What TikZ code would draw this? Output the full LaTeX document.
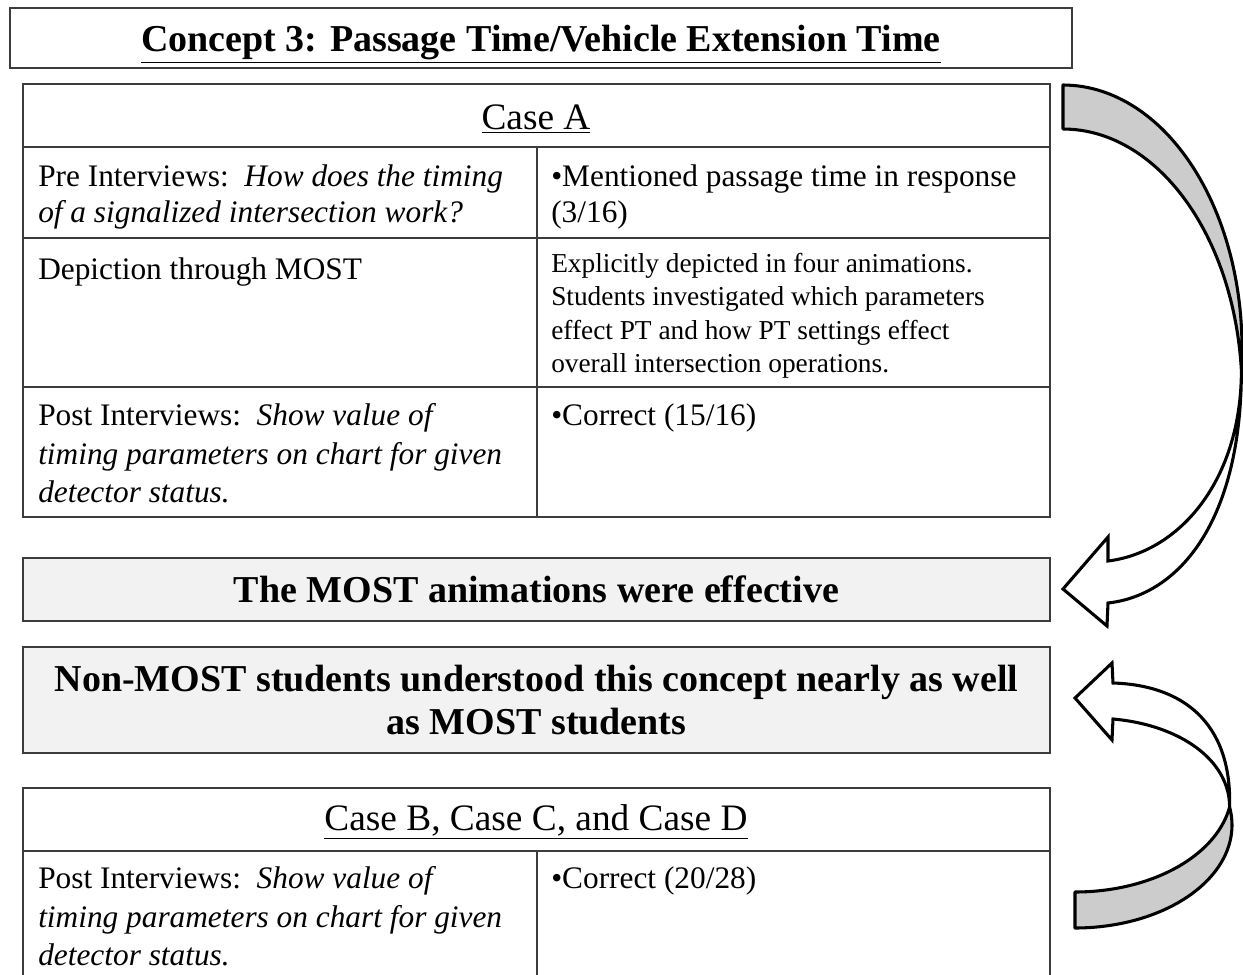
\documentclass[tikz,border=0pt]{standalone}
\usepackage{fontspec}
\setmainfont{Liberation Serif}
\definecolor{panelfill}{RGB}{242,242,242}
\definecolor{ribbongray}{RGB}{204,204,204}
\definecolor{rulegray}{RGB}{60,60,60}
\begin{document}
\begin{tikzpicture}[x=0.75pt,y=-0.75pt,
  rules/.style={draw=rulegray, line width=1.2pt},
  panel/.style={rules, rectangle, inner sep=0pt, align=center,
    font=\fontsize{28.5}{32}\selectfont\bfseries},
  headtxt/.style={inner sep=0pt, font=\fontsize{28}{32}\selectfont},
  celltxt/.style={anchor=north west, inner sep=0pt, align=left,
    font=\fontsize{23.5}{27}\selectfont},
  posttxt/.style={celltxt, font=\fontsize{23.5}{29}\selectfont},
  smalltxt/.style={anchor=north west, inner sep=0pt, align=left,
    font=\fontsize{20.5}{25}\selectfont},
  backface/.style={fill=ribbongray, draw=black, line width=2.3pt, line join=round},
  frontface/.style={fill=white, draw=black, line width=2.3pt, line join=miter}]
\useasboundingbox (0,0) rectangle (1243,975);
\clip (0,0) rectangle (1243,975);

% title
\node[panel, fill=white, minimum width=796.5pt, minimum height=45pt]
  (titlebox) at (541,38) {};
\node[panel, draw=none] (title) at (541,44)
  {\underline{Concept 3: Passage Time/Vehicle Extension Time}};

% Case A table
\draw[rules] (23,84) rectangle (1050,517);
\draw[rules] (23,147) -- (1050,147);
\draw[rules] (23,238) -- (1050,238);
\draw[rules] (23,387) -- (1050,387);
\draw[rules] (537,147) -- (537,517);
\node[headtxt] (caseA) at (536,119) {\underline{Case A}};
\node[celltxt] (preQ) at (38,164)
  {Pre Interviews:\ \ \textit{How does the timing}\\\textit{of a signalized intersection work?}};
\node[celltxt] (preA) at (551,164) {•Mentioned passage time in response\\(3/16)};
\node[celltxt] (depQ) at (38,257) {Depiction through MOST};
\node[smalltxt] (depA) at (551,253)
  {Explicitly depicted in four animations.\\Students investigated which parameters\\effect PT and how PT settings effect\\overall intersection operations.};
\node[posttxt] (postQ) at (38,403)
  {Post Interviews:\ \ \textit{Show value of}\\\textit{timing parameters on chart for given}\\\textit{detector status.}};
\node[celltxt] (postA) at (551,403) {•Correct (15/16)};

% conclusion panels
\node[panel, fill=panelfill, minimum width=770.25pt, minimum height=47.25pt]
  (effective) at (536.5,589.5) {The MOST animations were effective};
\node[panel, fill=panelfill, minimum width=770.25pt, minimum height=79.5pt]
  (nonmost) at (536.5,700) {Non-MOST students understood this concept nearly as well\\as MOST students};

% Case B, C, D table
\draw[rules] (23,1000) -- (23,788) -- (1050,788) -- (1050,1000);
\draw[rules] (23,851) -- (1050,851);
\draw[rules] (537,851) -- (537,1000);
\node[headtxt] (caseBCD) at (536,822) {\underline{Case B, Case C, and Case D}};
\node[posttxt] (postQb) at (38,866)
  {Post Interviews:\ \ \textit{Show value of}\\\textit{timing parameters on chart for given}\\\textit{detector status.}};
\node[celltxt] (postAb) at (551,866) {•Correct (20/28)};

% curved ribbon arrow from Case A down to the first conclusion
\coordinate (twistA) at (1241.4,370);
\draw[backface]
  plot[domain=-90:4.8, samples=60] ({1063+179*cos(\x)},{348+263*sin(\x)})
  -- plot[domain=-4.8:-90, samples=60] ({1063+179*cos(\x)},{392+263*sin(\x)})
  -- cycle;
\draw[frontface]
  (twistA) .. controls (1241.4,520) and (1180,595) .. (1108,603)
  -- (1107,626) -- (1063,589) -- (1108,537) -- (1108,561)
  .. controls (1180,552) and (1241.4,480) .. (twistA) -- cycle;

% curved ribbon arrow from Case B, C, D up to the second conclusion
\coordinate (twistB) at (1229.6,807);
\draw[backface]
  plot[domain=90:-10.06, samples=60] ({1075+157*cos(\x)},{825+103*sin(\x)})
  -- plot[domain=10.06:90, samples=60] ({1075+157*cos(\x)},{789+103*sin(\x)})
  -- cycle;
\draw[frontface]
  (twistB) .. controls (1232,720) and (1180,685) .. (1113,683)
  -- (1112,663) -- (1075,698) -- (1112,740) -- (1113,719)
  .. controls (1180,725) and (1229.6,760) .. (twistB) -- cycle;
\end{tikzpicture}
\end{document}
